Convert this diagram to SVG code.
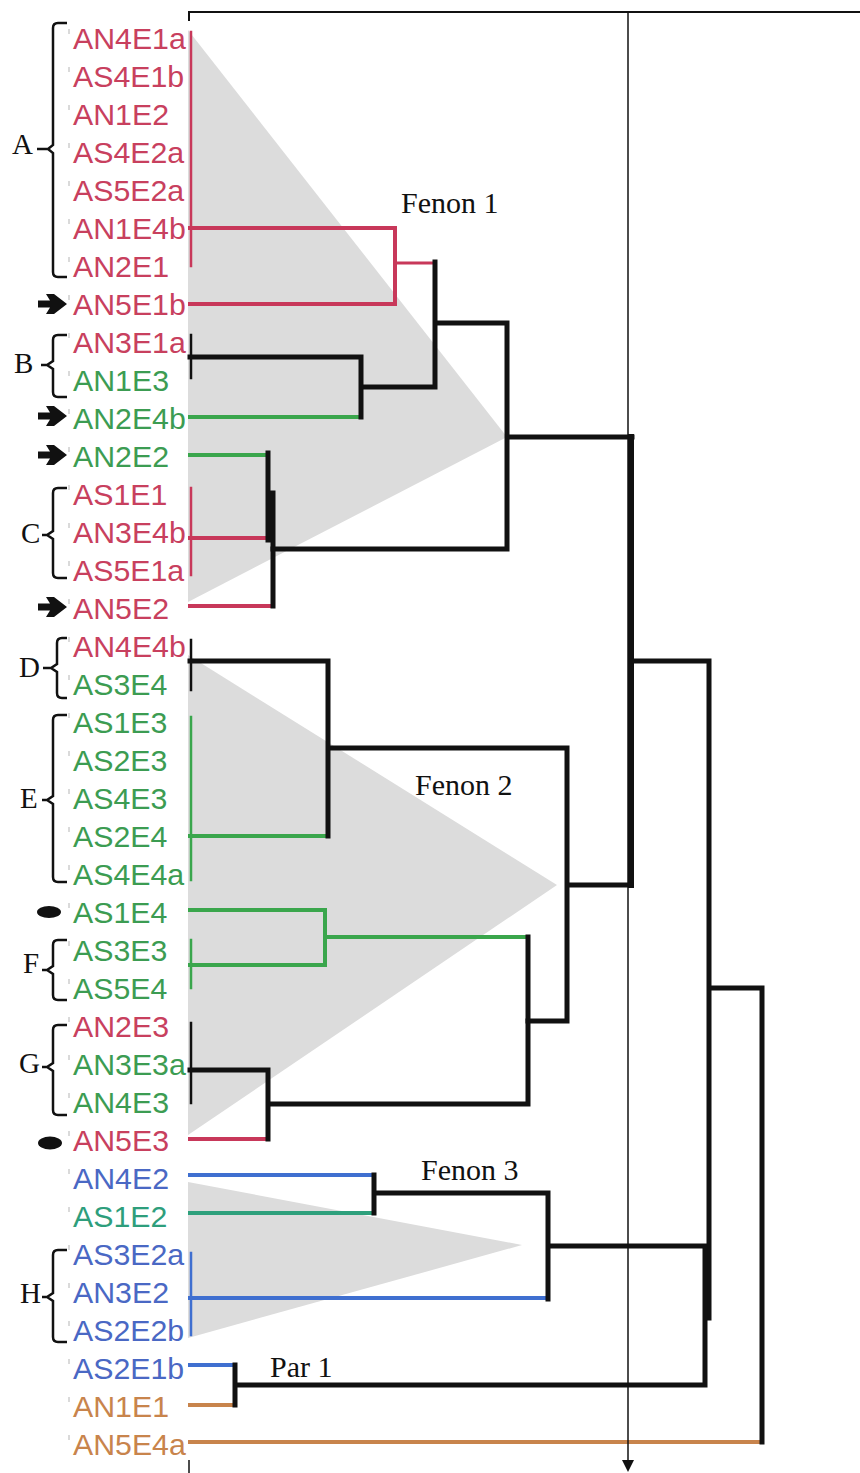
<svg xmlns="http://www.w3.org/2000/svg" width="860" height="1473" viewBox="0 0 860 1473">
<style>
.lbl{font-family:"Liberation Sans",Arial,sans-serif;font-size:29px}
.grp{font-family:"Liberation Serif","Times New Roman",serif;font-size:29px;fill:#111}
.fen{font-family:"Liberation Serif","Times New Roman",serif;font-size:30px;fill:#111}
.r{fill:#c8405e}.g{fill:#3c9c52}.b{fill:#4a68c4}.t{fill:#2e9e7c}.o{fill:#c8844c}
.tri{fill:#dcdcdc}
.ln{fill:none;stroke-linejoin:miter;stroke-linecap:square}
.sr{stroke:#c8385a;stroke-width:4}
.sg{stroke:#3aa64c;stroke-width:4}
.sb{stroke:#3f6fd0;stroke-width:4}
.st{stroke:#2ea07c;stroke-width:4}
.so{stroke:#c8844c;stroke-width:4}
.sk{stroke:#111;stroke-width:5}
.thin{stroke-width:2.5}
.br{fill:none;stroke:#111;stroke-width:2.5}
.tk{stroke:#999;stroke-width:1.2;opacity:.6}
</style>

<g id="shading">
<polygon class="tri" points="188,30 507,437 188,602"/>
<polygon class="tri" points="188,655 557,885 188,1135"/>
<polygon class="tri" points="188,1182 522,1245 188,1338"/>
</g>

<g id="frame" fill="none" stroke="#111">
<path d="M189,21V12H860" stroke-width="2"/>
<path d="M189,1460V1473" stroke-width="1.5"/>
</g>

<g id="connectors">
<path class="ln sr thin" d="M191,32V266M191,488V575"/>
<path class="ln sr" d="M190,228H395V304H190M190,538H268M190,606H273M190,1139H268"/>
<path class="ln sr" style="stroke-width:3" d="M395,263H433"/>
<path class="ln sg" d="M190,417H361M190,455H268M190,836H328M190,910H325V965H190M325,937H528"/>
<path class="ln sg thin" d="M191,717V880M191,940V988"/>
<path class="ln sb" d="M190,1175H374M190,1298H548M190,1365H235"/>
<path class="ln sb thin" d="M191,1253V1335"/>
<path class="ln st" d="M190,1213H374"/>
<path class="ln so" d="M190,1405H235M190,1442H762"/>
<path class="ln sk thin" d="M191,335V378M191,640V690M191,1023V1103"/>
<path class="ln sk" d="M190,357H361V417M361,387H435M435,262V387M435,323H507V549H273M507,437H632"/>
<path class="ln sk" d="M268,453V540M268,496H273M273,493V606"/>
<path class="ln sk" style="stroke-width:6" d="M631,437V885"/>
<path class="ln sk" d="M632,661H709V1318M709,988H762V1442"/>
<path class="ln sk" d="M190,661H328V836M328,748H567V1021H528M567,885H631"/>
<path class="ln sk" d="M528,937V1104H268M190,1070H268V1139"/>
<path class="ln sk" d="M374,1175V1213M374,1193H548V1299M548,1246H705V1385H235M235,1365V1405"/>
<path d="M628,12V1461" stroke="#111" stroke-width="1.5" fill="none"/>
<polygon points="622,1460 634,1460 628,1472" fill="#111"/>
</g>

<g id="fenon-labels">
<text class="fen" x="401" y="213">Fenon 1</text>
<text class="fen" x="415" y="795">Fenon 2</text>
<text class="fen" x="421" y="1180">Fenon 3</text>
<text class="fen" x="270" y="1377">Par 1</text>
</g>

<g id="group-A"><text class="grp" x="12" y="154">A</text><path class="br" d="M67,23H58Q53,23 53,28V145L48,149H37M48,149L53,153V272Q53,277 58,277H67"/></g>
<g id="group-B"><text class="grp" x="14" y="373">B</text><path class="br" d="M67,335H58Q53,335 53,340V361L47,365H41M47,365L53,369V392Q53,397 58,397H67"/></g>
<g id="group-C"><text class="grp" x="21" y="543">C</text><path class="br" d="M67,488H58Q53,488 53,493V531L47,535H42M47,535L53,539V573Q53,578 58,578H67"/></g>
<g id="group-D"><text class="grp" x="19" y="677">D</text><path class="br" d="M67,638H62Q57,638 57,643V664L51,668H43M51,668L57,672V693Q57,698 62,698H67"/></g>
<g id="group-E"><text class="grp" x="20" y="808">E</text><path class="br" d="M67,715H58Q53,715 53,720V796L47,800H42M47,800L53,804V877Q53,882 58,882H67"/></g>
<g id="group-F"><text class="grp" x="23" y="973">F</text><path class="br" d="M67,940H58Q53,940 53,945V966L47,970H42M47,970L53,974V995Q53,1000 58,1000H67"/></g>
<g id="group-G"><text class="grp" x="19" y="1073">G</text><path class="br" d="M67,1025H58Q53,1025 53,1030V1063L47,1067H42M47,1067L53,1071V1110Q53,1115 58,1115H67"/></g>
<g id="group-H"><text class="grp" x="20" y="1303">H</text><path class="br" d="M67,1250H58Q53,1250 53,1255V1293L47,1297H42M47,1297L53,1301V1337Q53,1342 58,1342H67"/></g>

<g id="markers" fill="#111">
<path d="M38,300.5H50L46,294H54L67,304L54,314H46L50,307.5H38Z"/>
<path d="M38,412.5H50L46,406H54L67,416L54,426H46L50,419.5H38Z"/>
<path d="M38,451.5H50L46,445H54L67,455L54,465H46L50,458.5H38Z"/>
<path d="M38,603.5H50L46,597H54L67,607L54,617H46L50,610.5H38Z"/>
<ellipse cx="49" cy="912" rx="12" ry="6"/>
<ellipse cx="50" cy="1143" rx="12" ry="6.5"/>
</g>

<g id="leaves">
<g id="AN4E1a"><path class="tk" d="M69,29v5"/><text class="lbl r" x="73" y="49" textLength="112.8" lengthAdjust="spacingAndGlyphs">AN4E1a</text></g>
<g id="AS4E1b"><path class="tk" d="M69,67v5"/><text class="lbl r" x="73" y="87" textLength="111.2" lengthAdjust="spacingAndGlyphs">AS4E1b</text></g>
<g id="AN1E2"><path class="tk" d="M69,105v5"/><text class="lbl r" x="73" y="125" textLength="96" lengthAdjust="spacingAndGlyphs">AN1E2</text></g>
<g id="AS4E2a"><path class="tk" d="M69,143v5"/><text class="lbl r" x="73" y="163" textLength="111.2" lengthAdjust="spacingAndGlyphs">AS4E2a</text></g>
<g id="AS5E2a"><path class="tk" d="M69,181v5"/><text class="lbl r" x="73" y="201" textLength="111.2" lengthAdjust="spacingAndGlyphs">AS5E2a</text></g>
<g id="AN1E4b"><path class="tk" d="M69,219v5"/><text class="lbl r" x="73" y="239" textLength="112.8" lengthAdjust="spacingAndGlyphs">AN1E4b</text></g>
<g id="AN2E1"><path class="tk" d="M69,257v5"/><text class="lbl r" x="73" y="277" textLength="96" lengthAdjust="spacingAndGlyphs">AN2E1</text></g>
<g id="AN5E1b"><path class="tk" d="M69,295v5"/><text class="lbl r" x="73" y="315" textLength="112.8" lengthAdjust="spacingAndGlyphs">AN5E1b</text></g>
<g id="AN3E1a"><path class="tk" d="M69,333v5"/><text class="lbl r" x="73" y="353" textLength="112.8" lengthAdjust="spacingAndGlyphs">AN3E1a</text></g>
<g id="AN1E3"><path class="tk" d="M69,371v5"/><text class="lbl g" x="73" y="391" textLength="96" lengthAdjust="spacingAndGlyphs">AN1E3</text></g>
<g id="AN2E4b"><path class="tk" d="M69,409v5"/><text class="lbl g" x="73" y="429" textLength="112.8" lengthAdjust="spacingAndGlyphs">AN2E4b</text></g>
<g id="AN2E2"><path class="tk" d="M69,447v5"/><text class="lbl g" x="73" y="467" textLength="96" lengthAdjust="spacingAndGlyphs">AN2E2</text></g>
<g id="AS1E1"><path class="tk" d="M69,485v5"/><text class="lbl r" x="73" y="505" textLength="94.3" lengthAdjust="spacingAndGlyphs">AS1E1</text></g>
<g id="AN3E4b"><path class="tk" d="M69,523v5"/><text class="lbl r" x="73" y="543" textLength="112.8" lengthAdjust="spacingAndGlyphs">AN3E4b</text></g>
<g id="AS5E1a"><path class="tk" d="M69,561v5"/><text class="lbl r" x="73" y="581" textLength="111.2" lengthAdjust="spacingAndGlyphs">AS5E1a</text></g>
<g id="AN5E2"><path class="tk" d="M69,599v5"/><text class="lbl r" x="73" y="619" textLength="96" lengthAdjust="spacingAndGlyphs">AN5E2</text></g>
<g id="AN4E4b"><path class="tk" d="M69,637v5"/><text class="lbl r" x="73" y="657" textLength="112.8" lengthAdjust="spacingAndGlyphs">AN4E4b</text></g>
<g id="AS3E4"><path class="tk" d="M69,675v5"/><text class="lbl g" x="73" y="695" textLength="94.3" lengthAdjust="spacingAndGlyphs">AS3E4</text></g>
<g id="AS1E3"><path class="tk" d="M69,713v5"/><text class="lbl g" x="73" y="733" textLength="94.3" lengthAdjust="spacingAndGlyphs">AS1E3</text></g>
<g id="AS2E3"><path class="tk" d="M69,751v5"/><text class="lbl g" x="73" y="771" textLength="94.3" lengthAdjust="spacingAndGlyphs">AS2E3</text></g>
<g id="AS4E3"><path class="tk" d="M69,789v5"/><text class="lbl g" x="73" y="809" textLength="94.3" lengthAdjust="spacingAndGlyphs">AS4E3</text></g>
<g id="AS2E4"><path class="tk" d="M69,827v5"/><text class="lbl g" x="73" y="847" textLength="94.3" lengthAdjust="spacingAndGlyphs">AS2E4</text></g>
<g id="AS4E4a"><path class="tk" d="M69,865v5"/><text class="lbl g" x="73" y="885" textLength="111.2" lengthAdjust="spacingAndGlyphs">AS4E4a</text></g>
<g id="AS1E4"><path class="tk" d="M69,903v5"/><text class="lbl g" x="73" y="923" textLength="94.3" lengthAdjust="spacingAndGlyphs">AS1E4</text></g>
<g id="AS3E3"><path class="tk" d="M69,941v5"/><text class="lbl g" x="73" y="961" textLength="94.3" lengthAdjust="spacingAndGlyphs">AS3E3</text></g>
<g id="AS5E4"><path class="tk" d="M69,979v5"/><text class="lbl g" x="73" y="999" textLength="94.3" lengthAdjust="spacingAndGlyphs">AS5E4</text></g>
<g id="AN2E3"><path class="tk" d="M69,1017v5"/><text class="lbl r" x="73" y="1037" textLength="96" lengthAdjust="spacingAndGlyphs">AN2E3</text></g>
<g id="AN3E3a"><path class="tk" d="M69,1055v5"/><text class="lbl g" x="73" y="1075" textLength="112.8" lengthAdjust="spacingAndGlyphs">AN3E3a</text></g>
<g id="AN4E3"><path class="tk" d="M69,1093v5"/><text class="lbl g" x="73" y="1113" textLength="96" lengthAdjust="spacingAndGlyphs">AN4E3</text></g>
<g id="AN5E3"><path class="tk" d="M69,1131v5"/><text class="lbl r" x="73" y="1151" textLength="96" lengthAdjust="spacingAndGlyphs">AN5E3</text></g>
<g id="AN4E2"><path class="tk" d="M69,1169v5"/><text class="lbl b" x="73" y="1189" textLength="96" lengthAdjust="spacingAndGlyphs">AN4E2</text></g>
<g id="AS1E2"><path class="tk" d="M69,1207v5"/><text class="lbl t" x="73" y="1227" textLength="94.3" lengthAdjust="spacingAndGlyphs">AS1E2</text></g>
<g id="AS3E2a"><path class="tk" d="M69,1245v5"/><text class="lbl b" x="73" y="1265" textLength="111.2" lengthAdjust="spacingAndGlyphs">AS3E2a</text></g>
<g id="AN3E2"><path class="tk" d="M69,1283v5"/><text class="lbl b" x="73" y="1303" textLength="96" lengthAdjust="spacingAndGlyphs">AN3E2</text></g>
<g id="AS2E2b"><path class="tk" d="M69,1321v5"/><text class="lbl b" x="73" y="1341" textLength="111.2" lengthAdjust="spacingAndGlyphs">AS2E2b</text></g>
<g id="AS2E1b"><path class="tk" d="M69,1359v5"/><text class="lbl b" x="73" y="1379" textLength="111.2" lengthAdjust="spacingAndGlyphs">AS2E1b</text></g>
<g id="AN1E1"><path class="tk" d="M69,1397v5"/><text class="lbl o" x="73" y="1417" textLength="96" lengthAdjust="spacingAndGlyphs">AN1E1</text></g>
<g id="AN5E4a"><path class="tk" d="M69,1435v5"/><text class="lbl o" x="73" y="1455" textLength="112.8" lengthAdjust="spacingAndGlyphs">AN5E4a</text></g>
</g>
</svg>
